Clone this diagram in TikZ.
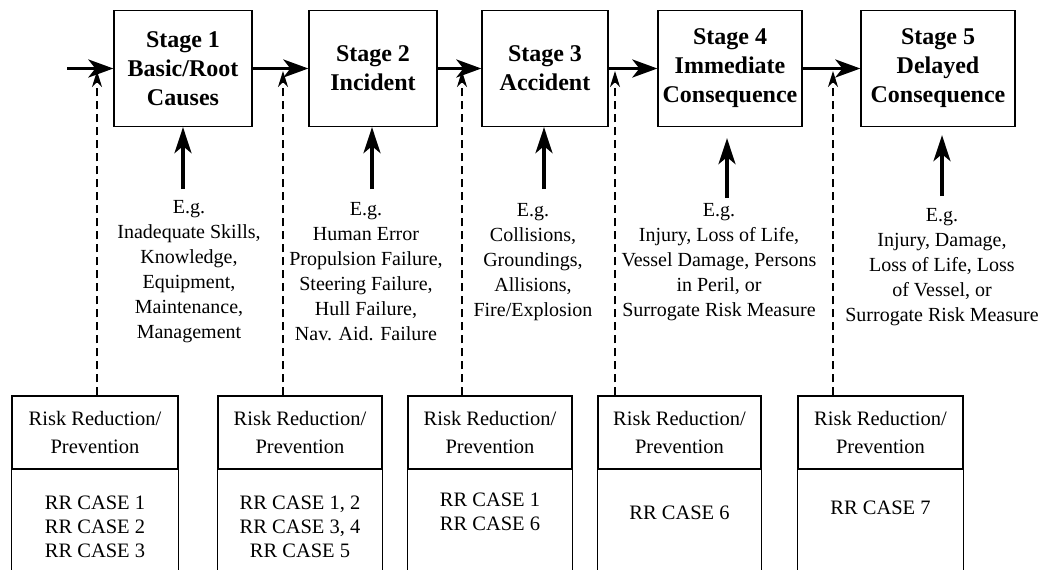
\documentclass[tikz,border=0pt]{standalone}
\usepackage{fontspec}
\setmainfont{Liberation Serif}
\usetikzlibrary{arrows.meta}
\begin{document}
\begin{tikzpicture}[x=1pt,y=-1pt,
  stagebox/.style={draw, line width=1.3pt, minimum width=#1, minimum height=116pt,
    inner sep=0pt, align=center, font=\fontsize{24}{29}\selectfont\bfseries},
  extext/.style={align=center, inner sep=0pt, font=\fontsize{20}{25}\selectfont},
  rrhead/.style={draw, line width=1.3pt, minimum width=#1, minimum height=73pt,
    inner sep=0pt, align=center, font=\fontsize{20.5}{28}\selectfont},
  rrtext/.style={align=center, inner sep=0pt, font=\fontsize{20.5}{24}\selectfont},
  rrline/.style={line width=1.3pt},
  mainarrow/.style={line width=3.5pt, -{Stealth[length=25pt, width=18pt, inset=7pt]}},
  uparrow/.style={line width=3.5pt, -{Stealth[length=26pt, width=17pt, inset=7pt]}},
  dasharrow/.style={line width=1.2pt, dash pattern=on 8pt off 5pt,
    -{Stealth[length=16pt, width=10pt, inset=5pt]}}
]
\useasboundingbox (0,0) rectangle (1045,570);

% stage boxes
\node[stagebox=138pt] (s1) at (183,68.5) {Stage 1\\Basic/Root\\Causes};
\node[stagebox=128pt] (s2) at (373,68.5) {Stage 2\\Incident};
\node[stagebox=126pt] (s3) at (545,68.5) {Stage 3\\Accident};
\node[stagebox=144pt] (s4) at (730,68.5) {Stage 4\\Immediate\\Consequence};
\node[stagebox=154pt] (s5) at (938,68.5) {Stage 5\\Delayed\\Consequence};

% main flow
\coordinate (in) at (67,68.5);
\draw[mainarrow] (in) -- (s1.west);
\draw[mainarrow] (s1.east) -- (s2.west);
\draw[mainarrow] (s2.east) -- (s3.west);
\draw[mainarrow] (s3.east) -- (s4.west);
\draw[mainarrow] (s4.east) -- (s5.west);

% examples
\node[extext] (e1) at (189,272) {E.g.\\Inadequate Skills,\\Knowledge,\\Equipment,\\Maintenance,\\Management};
\node[extext] (e2) at (366,272) {E.g.\\Human Error\\Propulsion Failure,\\Steering Failure,\\Hull Failure,\\Nav. Aid. Failure};
\node[extext] (e3) at (533,262) {E.g.\\Collisions,\\Groundings,\\Allisions,\\Fire/Explosion};
\node[extext] (e4) at (719,262) {E.g.\\Injury, Loss of Life,\\Vessel Damage, Persons\\in Peril, or\\Surrogate Risk Measure};
\node[extext] (e5) at (942,267) {E.g.\\Injury, Damage,\\Loss of Life, Loss\\of Vessel, or\\Surrogate Risk Measure};

% up arrows
\coordinate (u1) at (183,189);
\coordinate (u2) at (372,189);
\coordinate (u3) at (544,189);
\coordinate (u4) at (727,198);
\coordinate (u5) at (942,196);
\draw[uparrow] (u1) -- (u1 |- s1.south);
\draw[uparrow] (u2) -- (u2 |- s2.south);
\draw[uparrow] (u3) -- (u3 |- s3.south);
\draw[uparrow, shorten >=11pt] (u4) -- (u4 |- s4.south);
\draw[uparrow, shorten >=8pt] (u5) -- (u5 |- s5.south);

% risk reduction boxes
\node[rrhead=166pt] (r1) at (95,432.5) {Risk Reduction/\\Prevention};
\node[rrhead=164pt] (r2) at (300,432.5) {Risk Reduction/\\Prevention};
\node[rrhead=164pt] (r3) at (490,432.5) {Risk Reduction/\\Prevention};
\node[rrhead=163pt] (r4) at (679.5,432.5) {Risk Reduction/\\Prevention};
\node[rrhead=165pt] (r5) at (880.5,432.5) {Risk Reduction/\\Prevention};
\foreach \r in {r1,r2,r3,r4,r5}{
  \draw[rrline] (\r.south west) -- ++(0,102) (\r.south east) -- ++(0,102);
}
\node[rrtext] (c1) at (95,527) {RR CASE 1\\RR CASE 2\\RR CASE 3};
\node[rrtext] (c2) at (300,527) {RR CASE 1, 2\\RR CASE 3, 4\\RR CASE 5};
\node[rrtext] (c3) at (490,512) {RR CASE 1\\RR CASE 6};
\node[rrtext] (c4) at (679.5,513) {RR CASE 6};
\node[rrtext] (c5) at (880.5,508) {RR CASE 7};

% dashed risk-reduction arrows
\coordinate (d1) at (97,71);
\coordinate (d2) at (283,71);
\coordinate (d3) at (462,71);
\coordinate (d4) at (615,71);
\coordinate (d5) at (833,71);
\draw[dasharrow] (d1 |- r1.north) -- (d1);
\draw[dasharrow] (d2 |- r2.north) -- (d2);
\draw[dasharrow] (d3 |- r3.north) -- (d3);
\draw[dasharrow] (d4 |- r4.north) -- (d4);
\draw[dasharrow] (d5 |- r5.north) -- (d5);
\end{tikzpicture}
\end{document}
